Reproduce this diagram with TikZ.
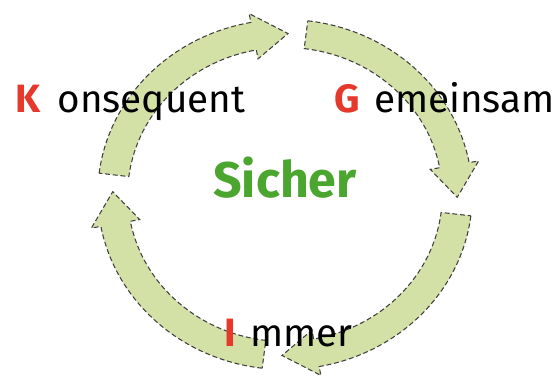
\documentclass[tikz,border=0pt]{standalone}
\usepackage{fontspec}
\setmainfont{Fira Sans}
\usepackage{xcolor}
\usepackage{tikz}
\usetikzlibrary{positioning, calc}
\definecolor{ringgreen}{HTML}{D3E1A7}
\definecolor{keyred}{HTML}{E5392B}
\definecolor{securegreen}{HTML}{4BA630}
\definecolor{outlinegray}{HTML}{3F3F3F}

% radii of the ring (in picture units)
\def\rin{147}
\def\rout{175}
\def\rmid{161}
\def\rhin{138}
\def\rhout{184}

\newcommand{\ringarrow}[2]{% #1 start angle, #2 tip angle
  \pgfmathsetmacro{\hbase}{#2+11.5}
  \filldraw[ringarrow] (#1:\rout) arc[start angle=#1, end angle=\hbase, radius=\rout]
    -- (\hbase:\rhout) -- (#2:\rmid) -- (\hbase:\rhin)
    -- (\hbase:\rin) arc[start angle=\hbase, end angle=#1, radius=\rin] -- cycle;
}

\tikzset{
  ringarrow/.style={fill=ringgreen, draw=outlinegray, line width=0.6pt,
    dash pattern=on 2.8pt off 1.6pt, line join=miter},
  keyletter/.style={keyred, font=\fontsize{22.5}{22.5}\selectfont\bfseries, inner sep=0pt, anchor=base west},
  keyword/.style={black, font=\fontsize{22}{22}\selectfont, inner sep=0pt},
  centerword/.style={securegreen, font=\fontsize{28.5}{28.5}\selectfont\bfseries, inner sep=0pt, anchor=base}
}

\begin{document}
\begin{tikzpicture}[x=0.02cm, y=0.02cm]
  \useasboundingbox (0,0) rectangle (559,376);

  % ring of four arrows, clockwise
  \begin{scope}[shift={(285,181.5)}, xscale=1.07]
    \ringarrow{83}{-1}
    \ringarrow{-7}{-91}
    \ringarrow{263}{179}
    \ringarrow{173}{89}
  \end{scope}

  % words
  \node[keyletter] (k) at (15,263) {K};
  \node[keyword, right=0.33cm of k.base east, anchor=base west] (konsequent) {onsequent};

  \node[keyletter] (g) at (334,263) {G};
  \node[keyword, right=0.27cm of g.base east, anchor=base west] (gemeinsam) {emeinsam};

  \node[keyletter] (i) at (224,30) {I};
  \node[keyword, right=0.27cm of i.base east, anchor=base west] (immer) {mmer};

  \node[centerword] (sicher) at (285,178) {Sicher};
\end{tikzpicture}
\end{document}
